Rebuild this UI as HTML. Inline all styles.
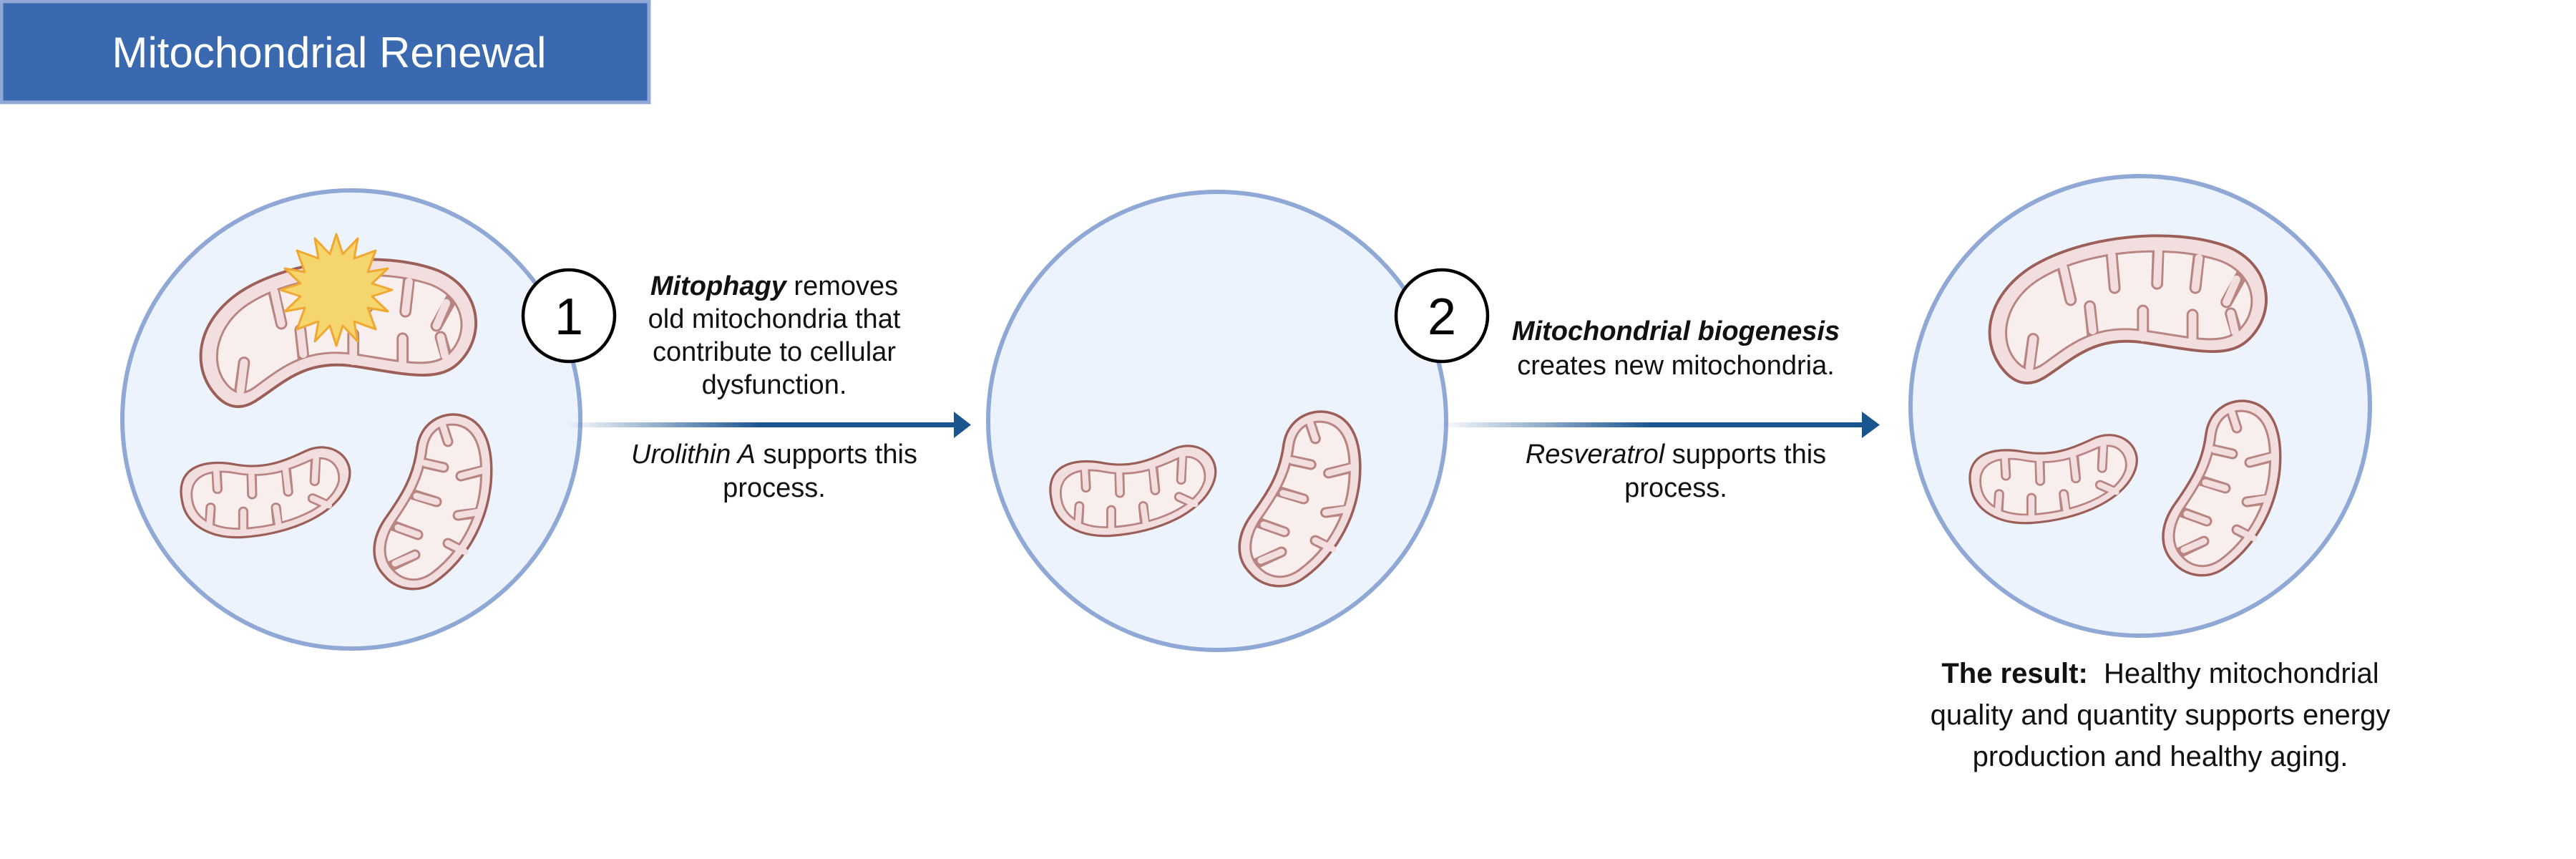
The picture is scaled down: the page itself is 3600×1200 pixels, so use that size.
<!DOCTYPE html>
<html><head><meta charset="utf-8"><style>
html,body{margin:0;padding:0;background:#fff;}
body{width:3600px;height:1200px;position:relative;overflow:hidden;font-family:"Liberation Sans",sans-serif;color:#111;}
.t{position:absolute;text-align:center;font-size:38px;line-height:47px;white-space:nowrap;transform:translateX(-50%);}
</style></head><body>
<svg width="3600" height="1200" style="position:absolute;left:0;top:0">
<defs>
<linearGradient id="ag" x1="0" x2="1" y1="0" y2="0">
<stop offset="0" stop-color="#1b5590" stop-opacity="0"/>
<stop offset="0.5" stop-color="#1b5590" stop-opacity="1"/>
<stop offset="1" stop-color="#1b5590"/>
</linearGradient>
<clipPath id="cb"><path d="M40 180 C15 150,25 95,75 65 C140 25,255 15,330 40 C380 60,385 110,355 138 C330 160,290 148,220 138 C150 128,115 160,80 185 C62 198,50 192,40 180Z"/></clipPath>
<clipPath id="cs"><path d="M25 90 C18 52,50 40,90 48 C132 56,165 44,195 30 C225 15,245 38,240 62 C228 102,165 128,100 132 C58 134,30 118,25 90Z"/></clipPath>
<clipPath id="cv"><path d="M32 222 C15 205,17 180,33 155 C57 120,74 92,78 52 C82 25,102 15,122 19 C148 25,157 55,154 100 C150 155,120 200,85 226 C65 240,45 236,32 222Z"/></clipPath>
<g id="big">
<path d="M20 190 C-10 150,0 90,60 50 C130 5,260 -10,340 20 C400 45,410 110,370 150 C340 180,290 165,220 155 C150 145,120 180,80 205 C55 220,35 210,20 190Z" fill="#f2dede" stroke="#9c5f58" stroke-width="4"/>
<path d="M40 180 C15 150,25 95,75 65 C140 25,255 15,330 40 C380 60,385 110,355 138 C330 160,290 148,220 138 C150 128,115 160,80 185 C62 198,50 192,40 180Z" fill="#f8eeee" stroke="#b98580" stroke-width="3"/>
<g stroke-linecap="round" fill="none">
<g stroke="#b98580" stroke-width="17" clip-path="url(#cb)">
<path d="M105 40 L118 95"/><path d="M175 20 L180 78"/><path d="M242 14 L240 72"/><path d="M300 24 L294 78"/><path d="M362 55 L338 98"/>
<path d="M58 200 L65 150"/><path d="M150 150 L145 104"/><path d="M220 160 L220 110"/><path d="M290 165 L290 116"/><path d="M356 155 L344 114"/>
</g>
<g stroke="#f2dede" stroke-width="11">
<path d="M108 50 L118 95"/><path d="M176 32 L180 78"/><path d="M242 26 L240 72"/><path d="M299 36 L294 78"/><path d="M352 66 L338 98"/>
<path d="M60 190 L65 150"/><path d="M149 138 L145 104"/><path d="M220 148 L220 110"/><path d="M290 154 L290 116"/><path d="M350 140 L344 114"/>
</g></g>
</g>
<g id="small">
<path d="M10 90 C0 40,40 25,90 35 C130 42,160 30,190 15 C230 -5,265 25,255 60 C240 110,170 140,100 145 C50 148,15 125,10 90Z" fill="#f2dede" stroke="#9c5f58" stroke-width="3.5"/>
<path d="M25 90 C18 52,50 40,90 48 C132 56,165 44,195 30 C225 15,245 38,240 62 C228 102,165 128,100 132 C58 134,30 118,25 90Z" fill="#f8eeee" stroke="#b98580" stroke-width="3"/>
<g stroke-linecap="round" fill="none">
<g stroke="#b98580" stroke-width="15" clip-path="url(#cs)">
<path d="M60 30 L62 72"/><path d="M112 40 L113 80"/><path d="M162 32 L166 76"/><path d="M207 14 L205 60"/>
<path d="M50 140 L52 100"/><path d="M100 150 L100 106"/><path d="M152 140 L148 100"/><path d="M232 100 L202 86"/>
</g>
<g stroke="#f2dede" stroke-width="9">
<path d="M60 40 L62 72"/><path d="M112 50 L113 80"/><path d="M162 42 L166 76"/><path d="M207 26 L205 60"/>
<path d="M50 128 L52 100"/><path d="M100 137 L100 106"/><path d="M152 127 L148 100"/><path d="M226 97 L202 86"/>
</g></g>
</g>
<g id="vert">
<path d="M20 230 C0 210,0 180,20 150 C45 115,60 90,65 50 C70 15,100 0,125 5 C160 12,172 50,168 100 C162 160,130 210,90 238 C65 255,35 248,20 230Z" fill="#f2dede" stroke="#9c5f58" stroke-width="3.5"/>
<path d="M32 222 C15 205,17 180,33 155 C57 120,74 92,78 52 C82 25,102 15,122 19 C148 25,157 55,154 100 C150 155,120 200,85 226 C65 240,45 236,32 222Z" fill="#f8eeee" stroke="#b98580" stroke-width="3"/>
<g stroke-linecap="round" fill="none">
<g stroke="#b98580" stroke-width="15" clip-path="url(#cv)">
<path d="M97 8 L108 42"/><path d="M66 70 L102 78"/><path d="M166 80 L126 90"/><path d="M54 114 L92 126"/><path d="M162 140 L122 145"/><path d="M28 158 L66 172"/><path d="M142 202 L108 184"/><path d="M24 218 L62 200"/>
</g>
<g stroke="#f2dede" stroke-width="9">
<path d="M101 20 L108 42"/><path d="M76 72 L102 78"/><path d="M156 82 L126 90"/><path d="M64 118 L92 126"/><path d="M152 140 L122 145"/><path d="M38 162 L66 172"/><path d="M132 196 L108 184"/><path d="M34 212 L62 200"/>
</g></g>
</g>
</defs>

<rect x="2" y="2" width="905" height="141" fill="#3a69b0" stroke="#8fa8d6" stroke-width="5"/>
<text x="460" y="94" font-family="Liberation Sans, sans-serif" font-size="60" fill="#fff" text-anchor="middle">Mitochondrial Renewal</text>

<circle cx="491" cy="586" r="320" fill="#ecf3fc" stroke="#8fa8d6" stroke-width="6"/>
<circle cx="1701" cy="588" r="320" fill="#ecf3fc" stroke="#8fa8d6" stroke-width="6"/>
<circle cx="2991" cy="567" r="321" fill="#ecf3fc" stroke="#8fa8d6" stroke-width="6"/>

<use href="#big" transform="translate(277,358) scale(0.985,0.99)"/>
<polygon transform="translate(470,405)" fill="#f5d56e" stroke="#f0a830" stroke-width="3" stroke-linejoin="round"
points="78,0 50,9 72,30 44,25 55,55 25,44 30,72 9,50 0,78 -9,50 -30,72 -25,44 -55,55 -44,25 -72,30 -50,9 -78,0 -50,-9 -72,-30 -44,-25 -55,-55 -25,-44 -30,-72 -9,-50 0,-78 9,-50 30,-72 25,-44 55,-55 44,-25 72,-30 50,-9"/>
<use href="#small" transform="translate(245,617) scale(0.95,0.92)"/>
<use href="#vert" transform="translate(518,575)"/>

<use href="#small" transform="translate(1460,615) scale(0.93,0.92)"/>
<use href="#vert" transform="translate(1727,571) scale(1.03,1.0)"/>

<use href="#big" transform="translate(2777,325) scale(0.99,0.99)"/>
<use href="#small" transform="translate(2745,600) scale(0.94,0.9)"/>
<use href="#vert" transform="translate(3018,556)"/>

<rect x="790" y="590" width="545" height="7" fill="url(#ag)"/>
<polygon points="1333,575 1357,593.5 1333,612" fill="#1b5590"/>
<rect x="2010" y="590" width="595" height="7" fill="url(#ag)"/>
<polygon points="2602,575 2627,593.5 2602,612" fill="#1b5590"/>

<circle cx="795" cy="441" r="64" fill="#fff" stroke="#000" stroke-width="4.5"/>
<text x="795" y="467" font-family="Liberation Sans, sans-serif" font-size="72" text-anchor="middle" fill="#000">1</text>
<circle cx="2015" cy="441" r="64" fill="#fff" stroke="#000" stroke-width="4.5"/>
<text x="2015" y="467" font-family="Liberation Sans, sans-serif" font-size="72" text-anchor="middle" fill="#000">2</text>
</svg>

<div class="t" style="left:1082px;top:377px;line-height:46px;"><b><i>Mitophagy</i></b> removes<br>old mitochondria that<br>contribute to cellular<br>dysfunction.</div>
<div class="t" style="left:1082px;top:612px;"><i>Urolithin A</i> supports this<br>process.</div>
<div class="t" style="left:2342px;top:439px;line-height:48px;"><b><i>Mitochondrial biogenesis</i></b><br>creates new mitochondria.</div>
<div class="t" style="left:2342px;top:612px;"><i>Resveratrol</i> supports this<br>process.</div>
<div class="t" style="left:3019px;top:912px;font-size:40px;line-height:58px;"><b>The result:</b>&nbsp; Healthy mitochondrial<br>quality and quantity supports energy<br>production and healthy aging.</div>
</body></html>
